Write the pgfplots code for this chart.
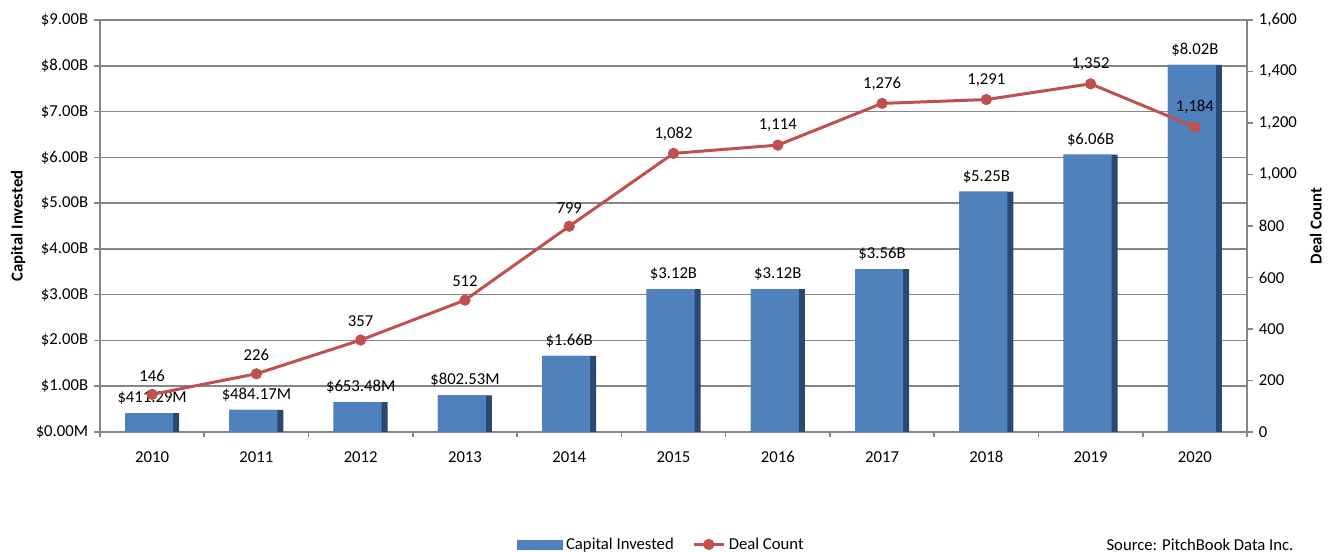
\documentclass[border=0pt]{standalone}
\usepackage{fontspec}
\setmainfont{Carlito}
\usepackage{pgfplots}
\pgfplotsset{compat=1.18}
\usepackage{pgfplotstable}

\definecolor{barblue}{RGB}{79,129,189}
\definecolor{bardark}{RGB}{42,72,112}
\definecolor{dealred}{RGB}{192,80,77}
\definecolor{gridgray}{RGB}{134,134,134}

% capital in $B, label text, deal count, label text
\pgfplotstableread{
x cap caplab deals deallab
0 0.41129 411.29M 146 146
1 0.48417 484.17M 226 226
2 0.65348 653.48M 357 357
3 0.80253 802.53M 512 512
4 1.66 1.66B 799 799
5 3.12 3.12B 1082 1,082
6 3.12 3.12B 1114 1,114
7 3.56 3.56B 1276 1,276
8 5.25 5.25B 1291 1,291
9 6.06 6.06B 1352 1,352
10 8.02 8.02B 1184 1,184
}\datatable

\pgfplotsset{
  common/.style={
    at={(2cm,2.4cm)}, anchor=south west,
    scale only axis, width=22.94cm, height=8.24cm,
    xmin=-0.5, xmax=10.5,
    tick align=outside,
    axis line style={gridgray, line width=0.9pt},
    tick style={gridgray, line width=0.9pt},
    major tick length=0.12cm,
  },
}

\begin{document}
\fontsize{9.5}{11.5}\selectfont
\begin{tikzpicture}
\path[use as bounding box, clip] (0,0) rectangle (26.64,11.04);

\begin{axis}[
    common,
    ymin=0, ymax=9,
    axis lines=box,
    ytick={0,1,...,9},
    yticklabels={\$0.00M,\$1.00B,\$2.00B,\$3.00B,\$4.00B,\$5.00B,\$6.00B,\$7.00B,\$8.00B,\$9.00B},
    ytick pos=left,
    xtick={0,1,...,10},
    xticklabels={2010,2011,2012,2013,2014,2015,2016,2017,2018,2019,2020},
    xtick pos=bottom,
    major x tick style={draw=none},
    minor xtick={-0.5,0.5,...,10.5},
    minor tick length=0.1cm,
    ymajorgrids,
    grid style={gridgray, line width=0.9pt},
    ylabel={\textbf{Capital Invested}},
    every axis y label/.style={at={(axis description cs:-0.0715,0.5)}, rotate=90, anchor=center},
    xticklabel style={text height=1.6ex, text depth=0.2ex, yshift=-0.12cm},
]
% capital invested bars: dark body, lighter face shifted left
\addplot[ybar, bar width=1.08cm, draw=none, fill=bardark]
    table[x=x, y=cap] {\datatable};
\addplot[ybar, bar width=0.96cm, bar shift=-0.06cm, draw=none, fill=barblue]
    table[x=x, y=cap] {\datatable};
% bar value labels
\addplot[draw=none, mark=none,
    nodes near coords={\$\pgfplotspointmeta},
    point meta=explicit symbolic,
    every node near coord/.append style={black, anchor=south, yshift=0.05cm}]
    table[x=x, y=cap, meta=caplab] {\datatable};
\end{axis}

\begin{axis}[
    common,
    ymin=0, ymax=1600,
    axis x line=none,
    axis y line*=right,
    ytick={0,200,...,1600},
    yticklabels={0,200,400,600,800,{1,000},{1,200},{1,400},{1,600}},
    ylabel={\textbf{Deal Count}},
    every axis y label/.style={at={(axis description cs:1.06,0.5)}, rotate=90, anchor=center},
    legend style={at={(0.49,-0.273)}, anchor=center, draw=none, fill=none,
        legend columns=2,
        /tikz/every even column/.append style={column sep=0.3cm}},
]
\addlegendimage{legend image code/.code={
    \fill[barblue] (0cm,-0.09cm) rectangle (0.9cm,0.09cm);}}
\addlegendentry{Capital Invested}
\addplot[dealred, line width=1.7pt, mark=*, mark size=2.3pt,
    nodes near coords,
    point meta=explicit symbolic,
    every node near coord/.append style={black, anchor=south, yshift=0.12cm}]
    table[x=x, y=deals, meta=deallab] {\datatable};
\addlegendentry{Deal Count}
\end{axis}

\node[anchor=south, inner sep=0pt] at (24cm,0.03cm) {Source: PitchBook Data Inc.};
\end{tikzpicture}
\end{document}
